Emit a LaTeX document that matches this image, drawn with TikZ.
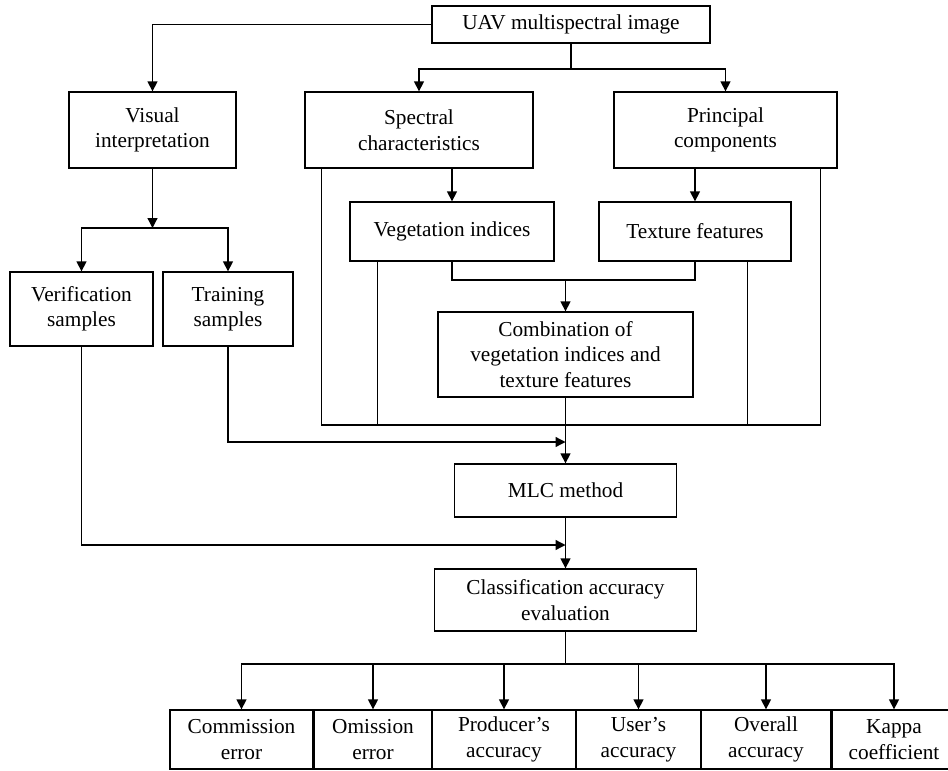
\documentclass[tikz,border=0pt]{standalone}
\usepackage{fontspec}
\setmainfont{Liberation Serif}
\usetikzlibrary{positioning,arrows.meta}
\tikzset{>={Triangle[length=10pt,width=10pt]}}
\tikzset{box/.style 2 args={draw,align=center,inner sep=0pt,minimum width=#1pt,minimum height=#2pt}}

\begin{document}
\begin{tikzpicture}[x=1pt,y=-1pt,line width=1.3pt,font=\fontsize{21.3}{25.5}\selectfont]
\clip (0,0) rectangle (948,771);
% Image and the first level of processing
\node[box={278}{37}] (uav) at (571,24.5) {UAV multispectral image};
\node[box={167}{76}] (visual) at (152.5,130) {Visual\\interpretation};
\node[box={228}{76}] (spectral) at (419,130) {Spectral\\characteristics};
\node[box={223}{76}] (principal) at (725.5,130) {Principal\\components};
% Features
\node[box={204}{59}] (veg) at (452,231.5) {Vegetation indices};
\node[box={192}{59}] (texture) at (695,231.5) {Texture features};
\node[box={255}{85}] (combo) at (565.5,354.5) {Combination of\\vegetation indices and\\texture features};
% Samples
\node[box={143}{74}] (verif) at (81.5,309) {Verification\\samples};
\node[box={130}{74}] (train) at (228,309) {Training\\samples};
% Classification
\node[box={222}{53}] (mlc) at (565.5,490.5) {MLC method};
\node[box={262}{62}] (accuracy) at (565.5,600) {Classification accuracy\\evaluation};
% Accuracy measures
\node[box={143}{59}] (commission) at (241.5,739.5) {Commission\\error};
\node[box={118}{59}] (omission) at (373,739.5) {Omission\\error};
\node[box={144}{59}] (producer) at (504,739.5) {Producer’s\\accuracy};
\node[box={125}{59}] (user) at (638.5,739.5) {User’s\\accuracy};
\node[box={130}{59}] (overall) at (766,739.5) {Overall\\accuracy};
\node[box={124}{59}] (kappa) at (894,739.5) {Kappa\\coefficient};
% Draw branches from the image
\coordinate (usplit) at (571,69);
\draw[->] (uav.west) -| (visual.north);
\draw (uav.south) -- (usplit);
\draw[->] (usplit) -| (spectral.north);
\draw[->] (usplit) -| (principal.north);
% Draw feature connectors
\draw[->] (spectral.south -| veg.north) -- (veg.north);
\draw[->] (principal.south -| texture.north) -- (texture.north);
\coordinate (vtsplit) at (565.5,280);
\draw (veg.south) |- (vtsplit) -| (texture.south);
\draw[->] (vtsplit) -- (combo.north);
% Draw frame of lines into MLC
\coordinate (frame) at (565.5,425);
\draw ([xshift=17pt]spectral.south west) |- ([xshift=-17pt]principal.south east |- frame) -- ([xshift=-17pt]principal.south east);
\draw ([xshift=28pt]veg.south west) -- ([xshift=28pt]veg.south west |- frame);
\draw ([xshift=-44pt]texture.south east) -- ([xshift=-44pt]texture.south east |- frame);
\draw[->] (combo.south) -- (mlc.north);
% Draw sample connectors
\coordinate (vsplit) at (152.5,228);
\coordinate (trainin) at (565.5,442);
\coordinate (verifin) at (565.5,545);
\draw[->] (visual.south) -- (vsplit);
\draw[->] (vsplit) -| (verif.north);
\draw[->] (vsplit) -| (train.north);
\draw[->] (train.south) |- (trainin);
\draw[->] (verif.south) |- (verifin);
\draw[->] (mlc.south) -- (accuracy.north);
% Draw accuracy measures
\coordinate (asplit) at (565.5,664);
\draw (accuracy.south) -- (asplit);
\foreach \n in {commission,omission,producer,user,overall,kappa}
  \draw[->] (asplit) -| (\n.north);
\end{tikzpicture}
\end{document}
